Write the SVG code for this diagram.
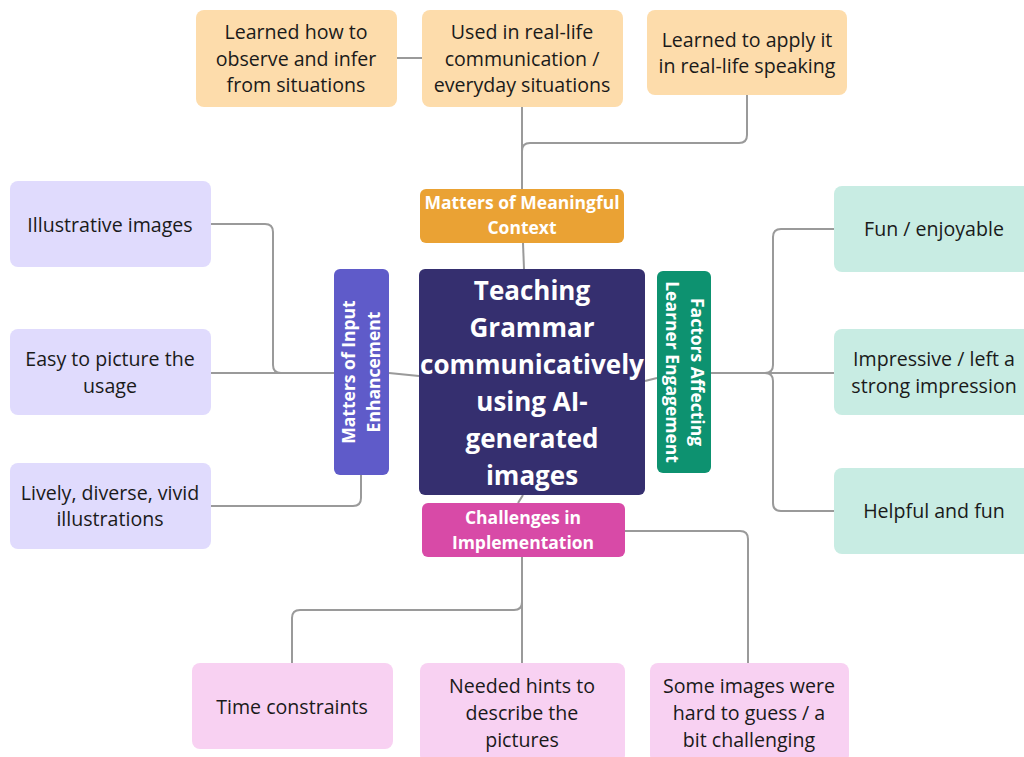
<svg xmlns="http://www.w3.org/2000/svg" width="1024" height="757" viewBox="0 0 1024 757">
  <style>
    .leaf { font-family: "Open Sans", "Liberation Sans", sans-serif; font-size: 19.6px; fill: #1a1a1a; text-anchor: middle; }
    .hdr { font-family: "Open Sans", "Liberation Sans", sans-serif; font-size: 17.5px; font-weight: bold; fill: #ffffff; text-anchor: middle; }
    .title { font-family: "Open Sans", "Liberation Sans", sans-serif; font-size: 26px; font-weight: bold; fill: #ffffff; text-anchor: middle; }
    .link { fill: none; stroke: #9a9a9a; stroke-width: 2; }
    .ctx { fill: #fddcab; }
    .inp { fill: #e0dbfd; }
    .eng { fill: #c8ece3; }
    .chl { fill: #f8d1f2; }
  </style>
  <rect width="1024" height="757" fill="#ffffff"/>

  <g id="connectors">
    <!-- meaningful context branch -->
    <path class="link" d="M397 58 H422"/>
    <path class="link" d="M522 107 V189"/>
    <path class="link" d="M747 95 V135 Q747 143 739 143 H530 Q522 143 522 151"/>
    <path class="link" d="M523 243 L524 269"/>
    <!-- input enhancement branch -->
    <path class="link" d="M211 224 H265 Q273 224 273 232 V365 Q273 373 281 373 H334"/>
    <path class="link" d="M211 373 H334"/>
    <path class="link" d="M211 506 H353 Q361 506 361 498 V475"/>
    <path class="link" d="M389 373 L419 376"/>
    <!-- learner engagement branch -->
    <path class="link" d="M645 381 L657 378"/>
    <path class="link" d="M711 373 H834"/>
    <path class="link" d="M765 373 Q773 373 773 365 V237 Q773 229 781 229 H834"/>
    <path class="link" d="M765 373 Q773 373 773 381 V503 Q773 511 781 511 H834"/>
    <!-- challenges branch -->
    <path class="link" d="M523 495 L518 503"/>
    <path class="link" d="M522 557 V663"/>
    <path class="link" d="M522 602 Q522 610 514 610 H300 Q292 610 292 618 V663"/>
    <path class="link" d="M625 531 H740 Q748 531 748 539 V663"/>
  </g>

  <g id="central">
    <rect x="419" y="269" width="226" height="226" rx="6" fill="#352f6f"/>
    <text class="title" x="532" y="300">Teaching</text>
    <text class="title" x="532" y="337">Grammar</text>
    <text class="title" x="532" y="374">communicatively</text>
    <text class="title" x="532" y="411">using AI-</text>
    <text class="title" x="532" y="448">generated</text>
    <text class="title" x="532" y="485">images</text>
  </g>

  <g id="meaningful-context">
    <rect x="420" y="189" width="204" height="54" rx="6" fill="#eaa234"/>
    <text class="hdr" x="522" y="209">Matters of Meaningful</text>
    <text class="hdr" x="522" y="234">Context</text>
  </g>
  <g id="ctx-observe">
    <rect class="ctx" x="196" y="10" width="201" height="97" rx="8"/>
    <text class="leaf" x="296" y="39">Learned how to</text>
    <text class="leaf" x="296" y="66">observe and infer</text>
    <text class="leaf" x="296" y="92">from situations</text>
  </g>
  <g id="ctx-real-life">
    <rect class="ctx" x="422" y="10" width="201" height="97" rx="8"/>
    <text class="leaf" x="522" y="39">Used in real-life</text>
    <text class="leaf" x="522" y="66">communication /</text>
    <text class="leaf" x="522" y="92">everyday situations</text>
  </g>
  <g id="ctx-apply">
    <rect class="ctx" x="647" y="10" width="200" height="85" rx="8"/>
    <text class="leaf" x="747" y="47">Learned to apply it</text>
    <text class="leaf" x="747" y="73">in real-life speaking</text>
  </g>

  <g id="input-enhancement">
    <rect x="334" y="269" width="55" height="206" rx="6" fill="#5f5bc9"/>
    <text class="hdr" transform="translate(355 372) rotate(-90)">Matters of Input</text>
    <text class="hdr" transform="translate(380 372) rotate(-90)">Enhancement</text>
  </g>
  <g id="inp-illustrative">
    <rect class="inp" x="10" y="181" width="201" height="86" rx="8"/>
    <text class="leaf" x="110" y="232">Illustrative images</text>
  </g>
  <g id="inp-picture">
    <rect class="inp" x="10" y="329" width="201" height="86" rx="8"/>
    <text class="leaf" x="110" y="366">Easy to picture the</text>
    <text class="leaf" x="110" y="393">usage</text>
  </g>
  <g id="inp-lively">
    <rect class="inp" x="10" y="463" width="201" height="86" rx="8"/>
    <text class="leaf" x="110" y="500">Lively, diverse, vivid</text>
    <text class="leaf" x="110" y="526">illustrations</text>
  </g>

  <g id="learner-engagement">
    <rect x="657" y="271" width="54" height="202" rx="6" fill="#0d9270"/>
    <text class="hdr" transform="translate(691 372) rotate(90)">Factors Affecting</text>
    <text class="hdr" transform="translate(666 372) rotate(90)">Learner Engagement</text>
  </g>
  <g id="eng-fun">
    <rect class="eng" x="834" y="186" width="200" height="86" rx="8"/>
    <text class="leaf" x="934" y="236">Fun / enjoyable</text>
  </g>
  <g id="eng-impressive">
    <rect class="eng" x="834" y="329" width="200" height="86" rx="8"/>
    <text class="leaf" x="934" y="366">Impressive / left a</text>
    <text class="leaf" x="934" y="393">strong impression</text>
  </g>
  <g id="eng-helpful">
    <rect class="eng" x="834" y="468" width="200" height="86" rx="8"/>
    <text class="leaf" x="934" y="518">Helpful and fun</text>
  </g>

  <g id="challenges">
    <rect x="422" y="503" width="203" height="54" rx="6" fill="#d84aa7"/>
    <text class="hdr" x="523" y="524">Challenges in</text>
    <text class="hdr" x="523" y="549">Implementation</text>
  </g>
  <g id="chl-time">
    <rect class="chl" x="192" y="663" width="201" height="86" rx="8"/>
    <text class="leaf" x="292" y="714">Time constraints</text>
  </g>
  <g id="chl-hints">
    <rect class="chl" x="420" y="663" width="205" height="100" rx="8"/>
    <text class="leaf" x="522" y="693">Needed hints to</text>
    <text class="leaf" x="522" y="720">describe the</text>
    <text class="leaf" x="522" y="747">pictures</text>
  </g>
  <g id="chl-guess">
    <rect class="chl" x="650" y="663" width="199" height="100" rx="8"/>
    <text class="leaf" x="749" y="693">Some images were</text>
    <text class="leaf" x="749" y="720">hard to guess / a</text>
    <text class="leaf" x="749" y="747">bit challenging</text>
  </g>
</svg>
